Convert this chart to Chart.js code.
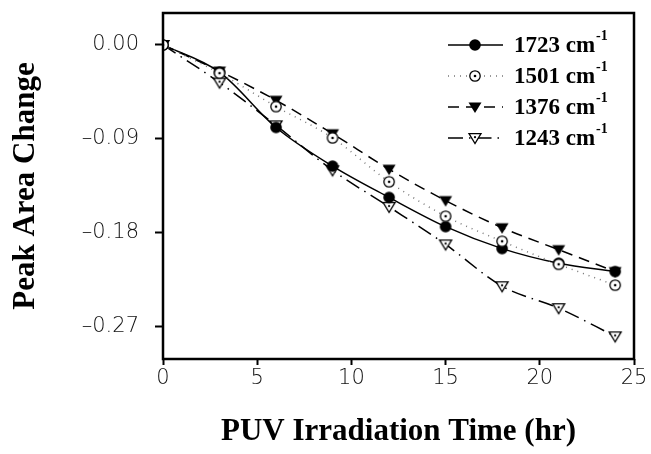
<!DOCTYPE html>
<html>
<head>
<meta charset="utf-8">
<script src="https://cdn.jsdelivr.net/npm/chart.js@4.4.1/dist/chart.umd.min.js"></script>
<style>
  html, body { margin: 0; padding: 0; background: #fff; }
  #wrap { width: 651px; height: 454px; }
</style>
</head>
<body>
<div id="wrap"><canvas id="chart-peak"></canvas></div>
<script>
// Irradiation times (hr)
const tiempos = [0, 3, 6, 9, 12, 15, 18, 21, 24];

// Peak area change per band
const serie1723 = [0, -0.026, -0.079, -0.116, -0.146, -0.174, -0.195, -0.209, -0.217];
const serie1501 = [0, -0.027, -0.059, -0.089, -0.131, -0.164, -0.188, -0.210, -0.230];
const serie1376 = [0, -0.025, -0.053, -0.085, -0.119, -0.149, -0.175, -0.196, -0.217];
const serie1243 = [0, -0.036, -0.077, -0.120, -0.155, -0.191, -0.231, -0.252, -0.279];

const etiquetas = ['1723', '1501', '1376', '1243'];
const ticksY = [0, -0.09, -0.18, -0.27];
const ticksX = [0, 5, 10, 15, 20, 25];

// --- marcadores dibujados en canvas ---
function marcador(tipo) {
    const c = document.createElement('canvas');
    c.width = 16; c.height = 16;
    const g = c.getContext('2d');
    g.strokeStyle = '#000';
    g.fillStyle = '#000';
    g.lineWidth = 1.3;
    if (tipo === 'circulo') {
        g.beginPath(); g.arc(8, 8, 5.8, 0, Math.PI * 2); g.fill();
    } else if (tipo === 'circuloPunto') {
        g.fillStyle = '#fff';
        g.beginPath(); g.arc(8, 8, 5.2, 0, Math.PI * 2); g.fill(); g.stroke();
        g.fillStyle = '#000';
        g.beginPath(); g.arc(8, 8, 1.3, 0, Math.PI * 2); g.fill();
    } else if (tipo === 'triangulo') {
        g.beginPath(); g.moveTo(1.5, 3.5); g.lineTo(14.5, 3.5); g.lineTo(8, 14); g.closePath(); g.fill();
    } else {
        g.fillStyle = '#fff';
        g.beginPath(); g.moveTo(2, 3.6); g.lineTo(14, 3.6); g.lineTo(8, 13.5); g.closePath(); g.fill(); g.stroke();
        g.fillStyle = '#000';
        g.beginPath(); g.arc(8, 7.2, 1.1, 0, Math.PI * 2); g.fill();
    }
    return c;
}

const estilos = [
    { pt: marcador('circulo'), dash: [], color: '#000', width: 1.5, orden: 1 },
    { pt: marcador('circuloPunto'), dash: [1, 5], color: '#777', width: 1.5, orden: 0 },
    { pt: marcador('triangulo'), dash: [11, 7], color: '#000', width: 1.5, orden: 2 },
    { pt: marcador('trianguloPunto'), dash: [15, 6, 1.5, 6], color: '#000', width: 1.5, orden: 3 }
];
const valores = [serie1723, serie1501, serie1376, serie1243];

// marco completo alrededor del area de la grafica
const marco = {
    id: 'marco',
    afterDraw(chart) {
        const { ctx, chartArea: a } = chart;
        ctx.save();
        ctx.strokeStyle = '#000';
        ctx.lineWidth = 2.5;
        ctx.strokeRect(a.left, a.top, a.right - a.left, a.bottom - a.top);
        ctx.restore();
    }
};

// leyenda dentro del area, arriba a la derecha
const leyenda = {
    id: 'leyenda',
    afterDraw(chart) {
        const ctx = chart.ctx;
        const x0 = 448, x1 = 503, xm = 475, xt = 514;
        const y0 = 45, paso = 31;
        ctx.save();
        estilos.forEach((e, i) => {
            const y = y0 + i * paso;
            ctx.strokeStyle = e.color;
            ctx.lineWidth = e.width;
            ctx.setLineDash(e.dash);
            ctx.beginPath(); ctx.moveTo(x0, y); ctx.lineTo(x1, y); ctx.stroke();
            ctx.setLineDash([]);
            ctx.drawImage(e.pt, xm - 8, y - 8);
            ctx.fillStyle = '#000';
            ctx.textBaseline = 'middle';
            ctx.font = 'bold 23px "Liberation Serif", serif';
            const txt = etiquetas[i] + ' cm';
            ctx.fillText(txt, xt, y + 1);
            const w = ctx.measureText(txt).width;
            ctx.font = 'bold 14px "Liberation Serif", serif';
            ctx.fillText('-1', xt + w + 1, y - 9);
        });
        ctx.restore();
    }
};

const ctxPeak = document.getElementById('chart-peak');
new Chart(ctxPeak, {
    type: 'line',
    data: {
        datasets: valores.map((v, i) => ({
            label: etiquetas[i] + ' cm-1',
            data: tiempos.map((t, k) => ({ x: t, y: v[k] })),
            order: estilos[i].orden,
            borderColor: estilos[i].color,
            borderWidth: estilos[i].width,
            borderDash: estilos[i].dash,
            pointStyle: estilos[i].pt,
            pointRadius: 6,
            cubicInterpolationMode: 'monotone',
            fill: false
        }))
    },
    options: {
        animation: false,
        responsive: true,
        maintainAspectRatio: false,
        layout: { padding: { top: 13, right: 17, left: 0, bottom: 0 } },
        plugins: { legend: { display: false }, tooltip: { enabled: false } },
        scales: {
            x: {
                type: 'linear',
                min: 0, max: 25,
                afterBuildTicks: s => { s.ticks = ticksX.map(v => ({ value: v })); },
                afterFit: s => { s.height = 95; s.paddingLeft = 0; s.paddingRight = 0; },
                grid: { drawOnChartArea: false, tickLength: 6, tickWidth: 2, color: '#000' },
                border: { display: false },
                ticks: {
                    padding: 1,
                    color: '#111',
                    font: { family: '"DejaVu Sans", sans-serif', size: 21, weight: '300' },
                    maxRotation: 0
                },
                title: {
                    display: true,
                    text: 'PUV Irradiation Time (hr)',
                    color: '#000',
                    font: { family: '"Liberation Serif", serif', size: 31, weight: 'bold' },
                    padding: { top: 0, bottom: 3 }
                }
            },
            y: {
                min: -0.3007, max: 0.0306,
                afterBuildTicks: s => { s.ticks = ticksY.map(v => ({ value: v })); },
                afterFit: s => { s.width = 163; s.paddingTop = 0; s.paddingBottom = 0; },
                grid: { drawOnChartArea: false, tickLength: 8, tickWidth: 2, color: '#000' },
                border: { display: false },
                ticks: {
                    padding: 16,
                    color: '#111',
                    font: { family: '"DejaVu Sans", sans-serif', size: 21, weight: '300' },
                    callback: v => (v < 0 ? '\u2013' : '') + Math.abs(v).toFixed(2)
                },
                title: {
                    display: true,
                    text: 'Peak Area Change',
                    color: '#000',
                    font: { family: '"Liberation Serif", serif', size: 31, weight: 'bold' },
                    padding: { top: 7, bottom: 0 }
                }
            }
        }
    },
    plugins: [marco, leyenda]
});
</script>
</body>
</html>
